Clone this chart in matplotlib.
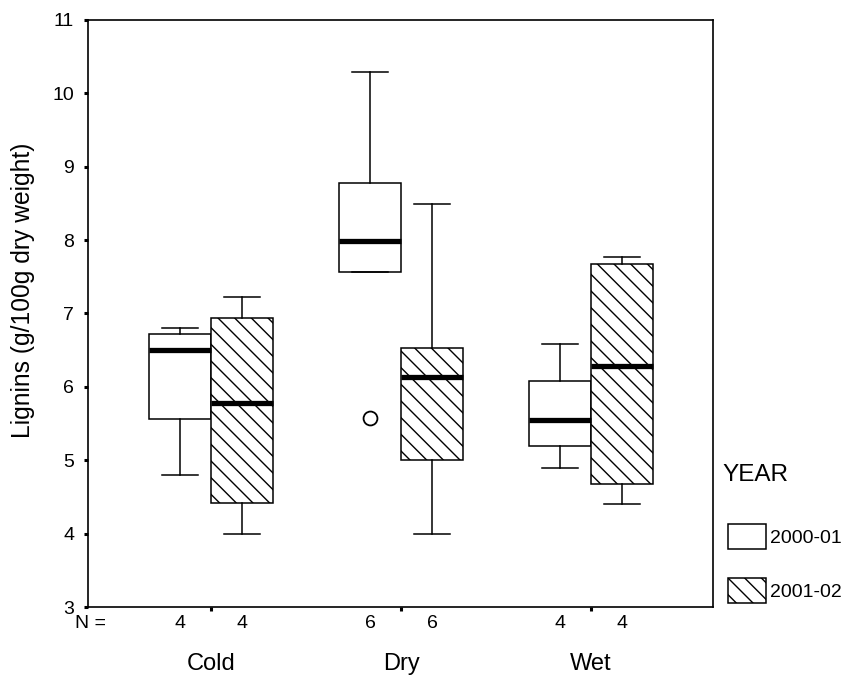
import matplotlib
matplotlib.use("Agg")
import matplotlib.pyplot as plt
from matplotlib.patches import Patch

plt.rcParams["font.family"] = ["Liberation Sans", "DejaVu Sans"]
plt.rcParams["hatch.linewidth"] = 1.0

# box statistics (g/100g dry weight)
groups = ["Cold", "Dry", "Wet"]
years = ["2000-01", "2001-02"]
n_obs = [[4, 4], [6, 6], [4, 4]]
whislo = [[4.80, 4.00], [7.56, 4.00], [4.89, 4.40]]
q1 = [[5.56, 4.42], [7.56, 5.00], [5.19, 4.68]]
med = [[6.50, 5.78], [7.99, 6.13], [5.55, 6.28]]
q3 = [[6.72, 6.94], [8.78, 6.53], [6.08, 7.67]]
whishi = [[6.80, 7.22], [10.29, 8.49], [6.58, 7.77]]
fliers = [[[], []], [[5.57], []], [[], []]]

hatches = ["", "\\\\"]
offset = 0.163
box_w = 0.326

fig = plt.figure(figsize=(8.46, 6.8), dpi=100)
ax = fig.add_axes([0.104, 0.107, 0.739, 0.864])

stats, pos, hs = [], [], []
for i, g in enumerate(groups):
    for j in range(2):
        stats.append(dict(med=med[i][j], q1=q1[i][j], q3=q3[i][j],
                          whislo=whislo[i][j], whishi=whishi[i][j],
                          fliers=fliers[i][j]))
        pos.append(i + 1 + (2 * j - 1) * offset)
        hs.append(hatches[j])

bp = ax.bxp(stats, positions=pos, widths=box_w, patch_artist=True,
            showfliers=True, capwidths=0.19,
            boxprops=dict(facecolor="white", edgecolor="black", linewidth=1.1),
            medianprops=dict(color="black", linewidth=3.8, solid_capstyle="butt"),
            whiskerprops=dict(color="black", linewidth=1.1),
            capprops=dict(color="black", linewidth=1.1),
            flierprops=dict(marker="o", markersize=10, markerfacecolor="none",
                            markeredgecolor="black", markeredgewidth=1.3))
for b, h in zip(bp["boxes"], hs):
    b.set_hatch(h)

ax.set_xlim(0.353, 3.642)
ax.set_ylim(3, 11)
ax.set_yticks(range(3, 12))
ax.tick_params(axis="y", length=3, width=2.2, pad=7, labelsize=14)
ax.set_xticks([1, 2, 3])
ax.set_xticklabels(groups)
ax.tick_params(axis="x", length=3, width=2.2, pad=30, labelsize=17)
for s in ax.spines.values():
    s.set_linewidth(1.2)

ax.set_ylabel("Lignins (g/100g dry weight)", fontsize=17.7)
ax.yaxis.set_label_coords(-0.085, 0.539)

# N = row under the axis
tr = ax.get_xaxis_transform()
ax.text(-0.021, -0.027, "N =", transform=ax.transAxes, ha="left", va="center",
        fontsize=14)
for i in range(3):
    for j in range(2):
        ax.text(i + 1 + (2 * j - 1) * offset, -0.027, str(n_obs[i][j]),
                transform=tr, ha="center", va="center", fontsize=14)

handles = [Patch(facecolor="white", edgecolor="black", hatch=h, linewidth=1.1)
           for h in hatches]
fig.text(722 / 846, 1 - 475 / 680, "YEAR", ha="left", va="center", fontsize=17.5)
fig.legend(handles, years, loc="upper left", bbox_to_anchor=(722 / 846, 1 - 518 / 680),
           frameon=False, fontsize=14, handlelength=1.95, handleheight=1.6,
           handletextpad=0.2, labelspacing=1.5, borderaxespad=0, borderpad=0.3)

fig.savefig("out.png", dpi=100)
